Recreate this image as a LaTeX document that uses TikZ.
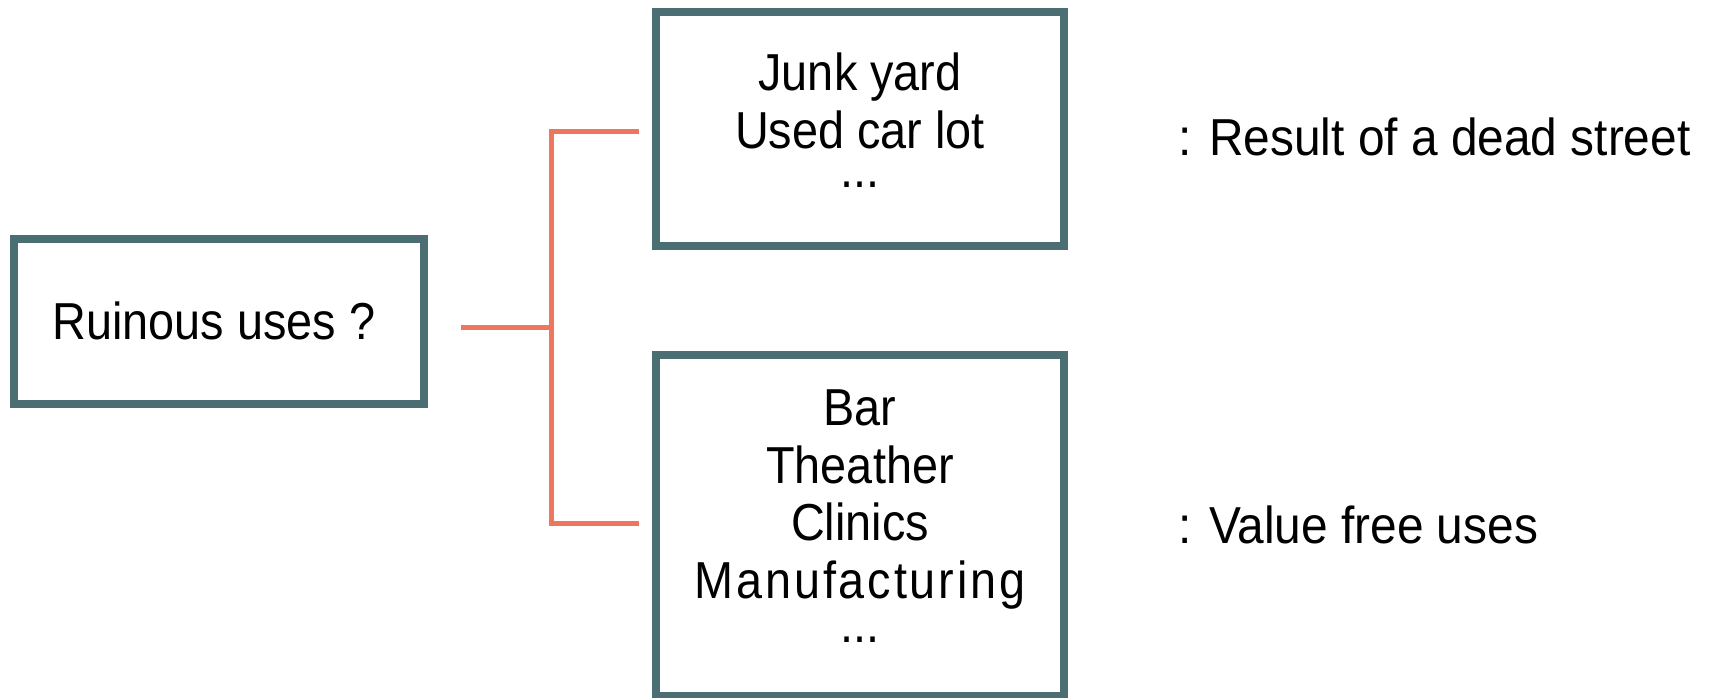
\documentclass[tikz,border=0pt]{standalone}
\usepackage{fontspec}
\setmainfont{Liberation Sans}
\newfontfamily\boxfont[FakeStretch=0.9]{Liberation Sans}
\newfontfamily\notefont[FakeStretch=0.92]{Liberation Sans}
\definecolor{framec}{HTML}{4B6E73}
\definecolor{linkc}{HTML}{EE765E}
\begin{document}
\begin{tikzpicture}[x=1pt,y=1pt,
  frame/.style={draw=framec, line width=8pt, inner sep=0pt, outer sep=0pt},
  boxtext/.style={font=\boxfont\fontsize{52}{57.5}\selectfont, align=center, inner sep=0pt},
  dots/.style={font=\boxfont\fontsize{52}{57.5}\selectfont, inner sep=0pt, anchor=base},
  note/.style={font=\notefont\fontsize{52}{60}\selectfont, inner sep=0pt, anchor=base west},
  link/.style={draw=linkc, line width=5pt}]
\useasboundingbox (0,0) rectangle (1713,697);

% frames
\node[frame, minimum width=410pt, minimum height=165pt] (ruin) at (219,375.5) {};
\node[frame, minimum width=408pt, minimum height=234pt] (dead) at (860,568) {};
\node[frame, minimum width=408pt, minimum height=341pt] (free) at (860,171.5) {};

% frame contents
\node[boxtext, anchor=base] (ruintext) at (214,357) {Ruinous uses ?};
\node[boxtext, anchor=north] (deadtext) at (860,644.2) {Junk yard\\Used car lot};
\node[dots] (deaddots) at (860,509) {...};
\node[boxtext, anchor=north] (freetext) at (860,307.2)
  {Bar\\Theather\\Clinics\\{\addfontfeature{LetterSpace=5.5}Manufacturing}};
\node[dots] (freedots) at (860,55) {...};

% side notes
\node[note] (deadnote) at (1178,541) {: Result of a dead street};
\node[note] (freenote) at (1178,154) {: Value free uses};

% bracket connector
\coordinate (root) at (461,369);
\coordinate (fork) at (551,369);
\coordinate (upend) at (639,565);
\coordinate (downend) at (639,174);
\draw[link] (root) -- (fork);
\draw[link] (upend) -| (fork) |- (downend);
\end{tikzpicture}
\end{document}
